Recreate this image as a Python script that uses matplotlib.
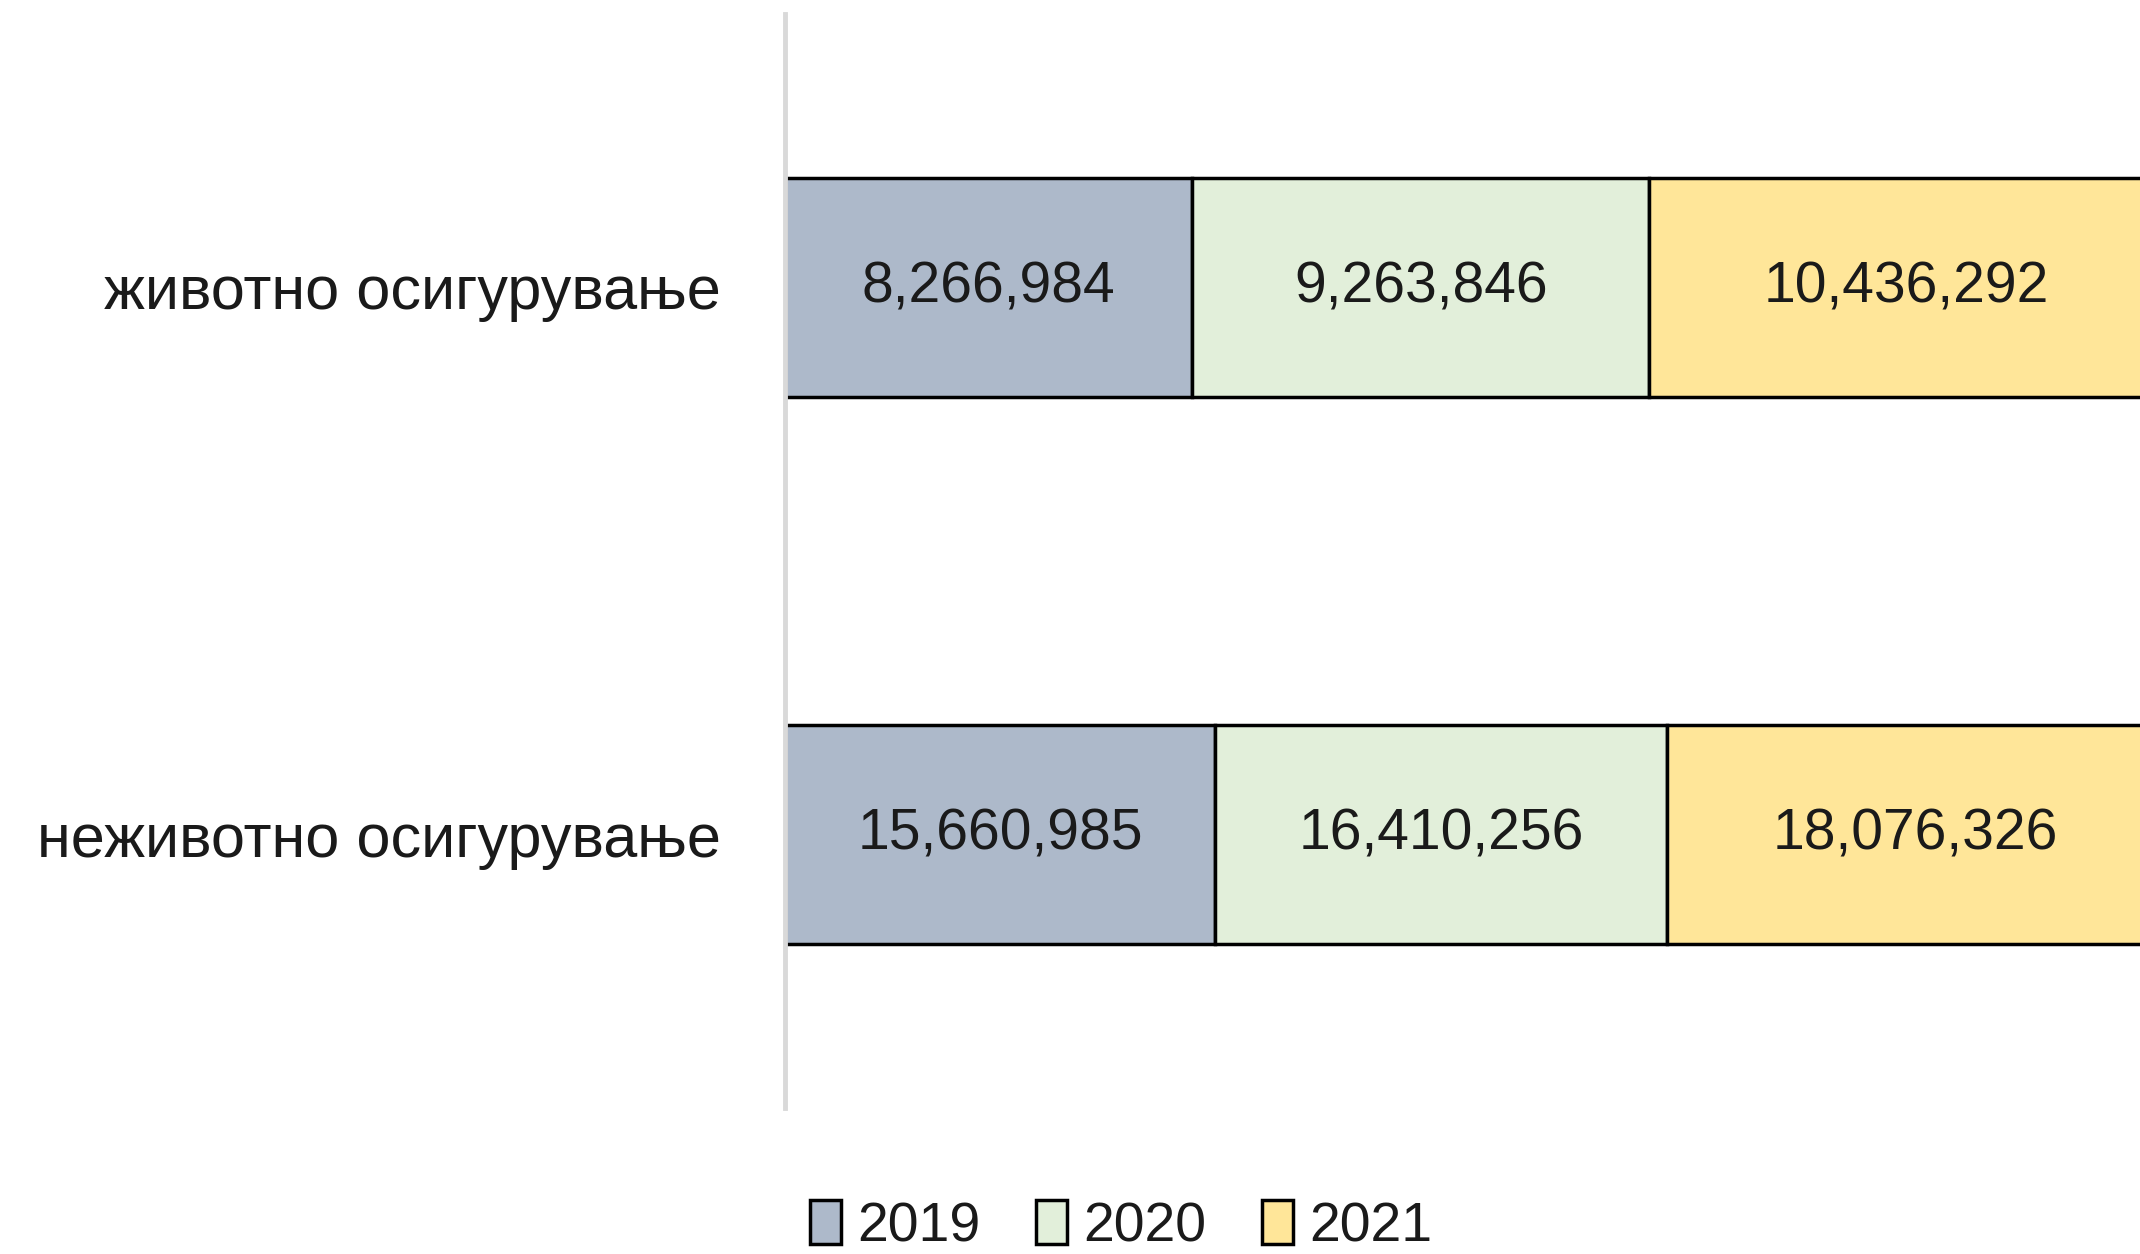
import matplotlib.pyplot as plt
import numpy as np

plt.rcParams['font.family'] = ['Liberation Sans', 'DejaVu Sans']

# data
categories = ["животно осигурување", "неживотно осигурување"]
years = ["2019", "2020", "2021"]
values_2019 = [8266984, 15660985]
values_2020 = [9263846, 16410256]
values_2021 = [10436292, 18076326]
colors = ["#ADB9CA", "#E2EFDA", "#FFE699"]

series = [values_2019, values_2020, values_2021]
totals = np.sum(np.array(series, dtype=float), axis=0)

fig = plt.figure(figsize=(21.4, 12.54), dpi=100)
# axes from x=785px to right edge, y=14px to 1108px
ax = fig.add_axes([785 / 2140, 1 - 1108 / 1254, 1 - 785 / 2140, (1108 - 14) / 1254])

y = np.arange(len(categories))
left = np.zeros(len(categories))
for vals, yr, c in zip(series, years, colors):
    share = np.array(vals) / totals
    ax.barh(y, share, left=left, height=0.4, color=c, edgecolor="black",
            linewidth=2.5, label=yr)
    for yi, l, s, v in zip(y, left, share, vals):
        ax.text(l + s / 2, yi, f"{v:,}", ha="center", va="center", fontsize=41,
                color="#1a1a1a")
    left += share

ax.set_xlim(0, 0.983)
ax.set_ylim(1.5, -0.5)
ax.set_yticks(y)
ax.set_yticklabels(categories, fontsize=44, color="#1a1a1a")
ax.tick_params(axis="y", length=0, pad=46)
ax.set_xticks([])
for s in ["top", "right", "bottom"]:
    ax.spines[s].set_visible(False)
ax.spines["left"].set_color("#D9D9D9")
ax.spines["left"].set_linewidth(3.5)

fig.legend(loc="center", bbox_to_anchor=(0.524, 0.022), ncol=3, frameon=False,
           fontsize=40, handlelength=0.55, handleheight=0.85, handletextpad=0.3,
           columnspacing=1.0, labelcolor="#1a1a1a")

fig.savefig("out.png", dpi=100)
